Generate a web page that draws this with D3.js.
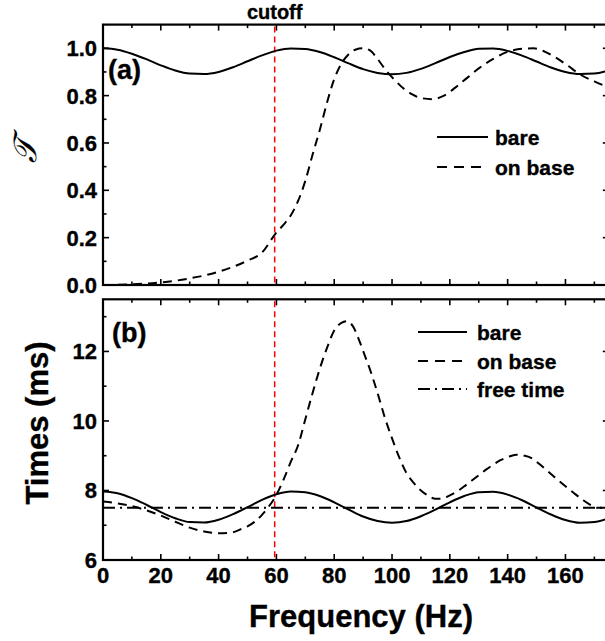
<!DOCTYPE html>
<html><head><meta charset="utf-8">
<script src="https://cdn.jsdelivr.net/npm/d3@7"></script>
<style>body{margin:0;background:#fff}svg{display:block}text{font-family:"Liberation Sans",Arial,sans-serif;font-weight:bold;fill:#000;stroke:#000;stroke-width:0.35px}</style>
</head><body>
<script>
// ---------- data ----------
const cutoffFreq = 59.4;
const xTicks = [0,20,40,60,80,100,120,140,160];
const topTicks = [0.0,0.2,0.4,0.6,0.8,1.0];
const botTicks = [6,8,10,12];

const bareFreq = [0,5,10,15,20,25,30,35,40,45,50,55,60,65,70,75,80,85,90,95,100,105,110,115,120,125,130,135,140,145,150,155,160,165,170,175];
const bareT    = [1.0,0.994,0.977,0.954,0.928,0.906,0.893,0.891,0.900,0.920,0.945,0.970,0.990,0.999,0.997,0.984,0.962,0.936,0.912,0.896,0.890,0.896,0.913,0.937,0.963,0.984,0.998,0.999,0.989,0.969,0.944,0.919,0.900,0.891,0.893,0.906];
const bareTime = [7.97,7.92,7.78,7.59,7.38,7.20,7.09,7.08,7.16,7.32,7.52,7.73,7.89,7.97,7.95,7.84,7.66,7.45,7.25,7.12,7.07,7.12,7.26,7.45,7.66,7.84,7.95,7.96,7.88,7.72,7.51,7.31,7.15,7.07,7.09,7.20];

const baseTFreq = [0,5,10,15,20,25,30,35,40,45,50,55,60,62.5,65,67.5,70,72.5,75,77.5,80,82.5,85,87.5,90,92.5,95,98,101,104,107,110,114,118,122,126,130,135,140,145,149,153,157,161,165,170,175];
const baseT     = [0.0,0.001,0.003,0.006,0.011,0.018,0.028,0.040,0.056,0.077,0.103,0.137,0.222,0.255,0.295,0.355,0.44,0.55,0.655,0.77,0.87,0.935,0.975,0.995,1.0,0.99,0.955,0.905,0.865,0.83,0.805,0.79,0.785,0.80,0.835,0.875,0.915,0.955,0.985,0.998,1.0,0.985,0.958,0.925,0.89,0.86,0.835];

const baseTimeFreq = [0,5,10,15,20,25,30,35,40,45,47.5,50,52.5,55,57,59.5,62.5,65,67.5,70,72.5,75,77.5,80,82.5,84.5,86.5,88.5,90.5,92.5,95,97.5,100,102.5,105,107.5,110,112.5,115,117.5,120,122.5,125,127.5,130,132.5,135,137.5,140,143,146,148.5,151,154,157,160,163,166,169,171,175];
const baseTime     = [7.68,7.63,7.55,7.43,7.28,7.10,6.93,6.82,6.77,6.80,6.88,6.97,7.10,7.30,7.50,7.80,8.32,8.83,9.30,10.05,10.80,11.50,12.10,12.60,12.82,12.87,12.72,12.35,11.90,11.45,10.80,10.10,9.50,8.95,8.50,8.22,8.00,7.85,7.76,7.77,7.86,7.97,8.12,8.28,8.44,8.60,8.74,8.87,8.96,9.03,9.00,8.92,8.76,8.55,8.33,8.12,7.92,7.73,7.57,7.50,7.50];

const freeFreq = [0,175];
const freeTime = [7.5,7.5];

// ---------- layout ----------
const W = 605, H = 641;
const svg = d3.select("body").append("svg").attr("width", W).attr("height", H);
const x = d3.scaleLinear().domain([0,175]).range([103, 608.8]);
const yTop = d3.scaleLinear().domain([0,1.1]).range([285, 24.6]);
const yBot = d3.scaleLinear().domain([6,13.5]).range([560, 299.3]);

function panel(y, majors, minors, fmt, showX) {
  const g = svg.append("g");
  const [y0,y1] = y.range();
  const [x0,x1] = x.range();
  const id = "c" + Math.round(y0);
  svg.append("clipPath").attr("id", id).append("rect")
     .attr("x", x0).attr("y", y1).attr("width", x1-x0).attr("height", y0-y1);
  const xMin = d3.range(10,175,20);
  const axes = g.append("g").attr("stroke","#000").attr("stroke-width",1.6);
  xTicks.forEach(v=>{
    axes.append("line").attr("x1",x(v)).attr("x2",x(v)).attr("y1",y0).attr("y2",y0-6);
    axes.append("line").attr("x1",x(v)).attr("x2",x(v)).attr("y1",y1).attr("y2",y1+6);
  });
  xMin.forEach(v=>{
    axes.append("line").attr("x1",x(v)).attr("x2",x(v)).attr("y1",y0).attr("y2",y0-3.5);
    axes.append("line").attr("x1",x(v)).attr("x2",x(v)).attr("y1",y1).attr("y2",y1+3.5);
  });
  majors.forEach(v=>{
    axes.append("line").attr("x1",x0).attr("x2",x0+6).attr("y1",y(v)).attr("y2",y(v));
    axes.append("line").attr("x1",x1).attr("x2",x1-6).attr("y1",y(v)).attr("y2",y(v));
  });
  minors.forEach(v=>{
    axes.append("line").attr("x1",x0).attr("x2",x0+3.5).attr("y1",y(v)).attr("y2",y(v));
    axes.append("line").attr("x1",x1).attr("x2",x1-3.5).attr("y1",y(v)).attr("y2",y(v));
  });
  g.append("rect").attr("x",x0).attr("y",y1).attr("width",x1-x0).attr("height",y0-y1)
    .attr("fill","none").attr("stroke","#000").attr("stroke-width",2.2);
  majors.forEach(v=>{
    g.append("text").attr("x",97).attr("y",y(v)).attr("dy","0.36em")
      .attr("text-anchor","end").attr("font-size",22).text(fmt(v));
  });
  if (showX) {
    xTicks.forEach(v=>{
      g.append("text").attr("x",x(v)).attr("y",583).attr("text-anchor","middle")
        .attr("font-size",22).text(v);
    });
  }
  g.append("line").attr("x1",x(cutoffFreq)).attr("x2",x(cutoffFreq)).attr("y1",y1+2).attr("y2",y0)
    .attr("stroke","#ff0000").attr("stroke-width",1.5).attr("stroke-dasharray","6,4");
  return id;
}

const topId = panel(yTop, topTicks, [0.1,0.3,0.5,0.7,0.9], d3.format(".1f"), false);
const botId = panel(yBot, botTicks, [7,9,11,13], d3.format("d"), true);

function curve(fr, vals, y, dash, clip) {
  const line = d3.line().x((d,i)=>x(fr[i])).y(d=>y(d)).curve(d3.curveMonotoneX);
  svg.append("path").attr("d", line(vals)).attr("fill","none").attr("stroke","#000")
    .attr("stroke-width",2).attr("stroke-dasharray", dash).attr("clip-path","url(#"+clip+")");
}
curve(bareFreq, bareT, yTop, null, topId);
curve(baseTFreq, baseT, yTop, "9,6", topId);
curve(freeFreq, freeTime, yBot, "12,5,2,5", botId);
curve(bareFreq, bareTime, yBot, null, botId);
curve(baseTimeFreq, baseTime, yBot, "9,6", botId);

function legend(items, lx0, lx1, tx, ys) {
  items.forEach((it,i)=>{
    svg.append("line").attr("x1",lx0).attr("x2",lx1).attr("y1",ys[i]).attr("y2",ys[i])
      .attr("stroke","#000").attr("stroke-width",2).attr("stroke-dasharray",it.dash);
    svg.append("text").attr("x",tx).attr("y",ys[i]).attr("dy","0.36em").attr("font-size",21).text(it.label);
  });
}
legend([{label:"bare",dash:null},{label:"on base",dash:"10,7"}], 437, 488, 495, [137,167]);
legend([{label:"bare",dash:null},{label:"on base",dash:"10,7"},{label:"free time",dash:"12,5,2,5"}], 418, 467, 477, [332,361,389]);

svg.append("text").attr("x",108).attr("y",79).attr("font-size",27).text("(a)");
svg.append("text").attr("x",112).attr("y",342).attr("font-size",27).text("(b)");
svg.append("text").attr("x",x(cutoffFreq)).attr("y",19).attr("text-anchor","middle").attr("font-size",20).text("cutoff");
svg.append("text").attr("x",361).attr("y",627).attr("text-anchor","middle").attr("font-size",31).text("Frequency (Hz)");
svg.append("text").attr("transform","translate(48,423) rotate(-90)").attr("text-anchor","middle").attr("font-size",31).text("Times (ms)");
svg.append("text").attr("transform","translate(36,150) rotate(-90)").attr("text-anchor","middle")
  .style("font-family","'DejaVu Serif',serif").style("font-weight","normal").style("font-style","italic")
  .style("stroke-width","0.2px").attr("font-size",32).text("𝒯");
</script>
</body></html>
